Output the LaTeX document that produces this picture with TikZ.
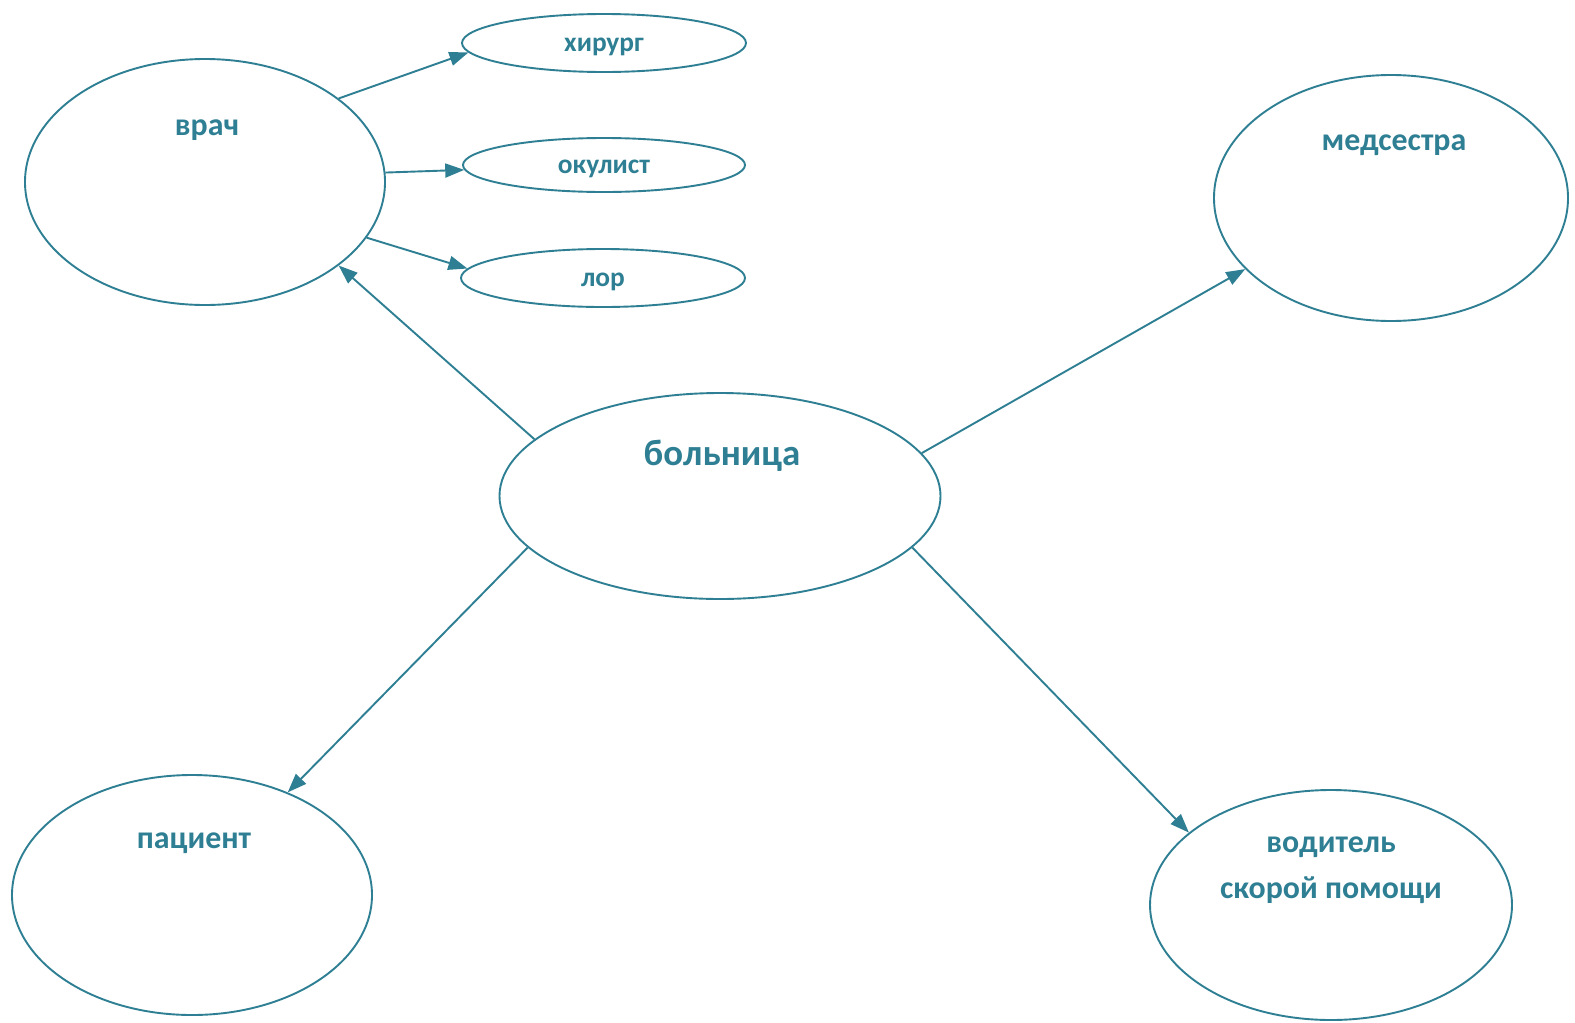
\documentclass[tikz,border=0pt]{standalone}
\usepackage{fontspec}
\setmainfont{Carlito}
\usetikzlibrary{shapes.geometric,arrows.meta}
\definecolor{ink}{HTML}{2E7F93}
\tikzset{
  oval/.style={ellipse, draw=ink, line width=1.9bp, inner sep=0pt},
  txt/.style={text=ink, font=\bfseries\fontsize{32}{38}\selectfont, inner sep=0pt},
  smalltxt/.style={text=ink, font=\bfseries\fontsize{27.5}{32}\selectfont, inner sep=0pt},
  conn/.style={draw=ink, line width=1.9bp, -{Triangle[length=19bp,width=14bp]}}
}
\begin{document}
\begin{tikzpicture}[x=1bp,y=-1bp]
\path[use as bounding box, fill=white] (0,0) rectangle (1575,1022);
% ellipses
\node[oval, minimum width=360bp, minimum height=246bp] (vrach) at (205,182) {};
\node[oval, minimum width=284bp, minimum height=58bp] (hir) at (604,43) {};
\node[oval, minimum width=282bp, minimum height=54bp] (okul) at (604,165) {};
\node[oval, minimum width=284bp, minimum height=58bp] (lor) at (603,278) {};
\node[oval, minimum width=441bp, minimum height=206bp] (boln) at (720,496) {};
\node[oval, minimum width=354bp, minimum height=246bp] (med) at (1391,198) {};
\node[oval, minimum width=360bp, minimum height=240bp] (pac) at (192,895) {};
\node[oval, minimum width=362bp, minimum height=230bp] (vod) at (1331,905) {};
% texts
\node[txt] (t-vrach) at (207,130) {врач};
\node[smalltxt] (t-hir) at (604,47) {хирург};
\node[smalltxt] (t-okul) at (604,169) {окулист};
\node[smalltxt] (t-lor) at (603,282) {лор};
\node[txt, font=\bfseries\fontsize{37}{44}\selectfont] (t-boln) at (722,456) {больница};
\node[txt] (t-med) at (1394,145) {медсестра};
\node[txt] (t-pac) at (194,843) {пациент};
\node[txt] (t-vod1) at (1331,847) {водитель};
\node[txt] (t-vod2) at (1331,890) {скорой помощи};
% connectors
\draw[conn] (vrach.32) -- (hir.184);
\draw[conn] (vrach.3) -- (okul.182);
\draw[conn] (vrach.-19) -- (lor.176);
\draw[conn] (boln.163) -- (vrach.-32);
\draw[conn] (boln.12) -- (med.206);
\draw[conn] (boln.195) -- (pac.47);
\draw[conn] (boln.-15) -- (vod.153);
\end{tikzpicture}
\end{document}
